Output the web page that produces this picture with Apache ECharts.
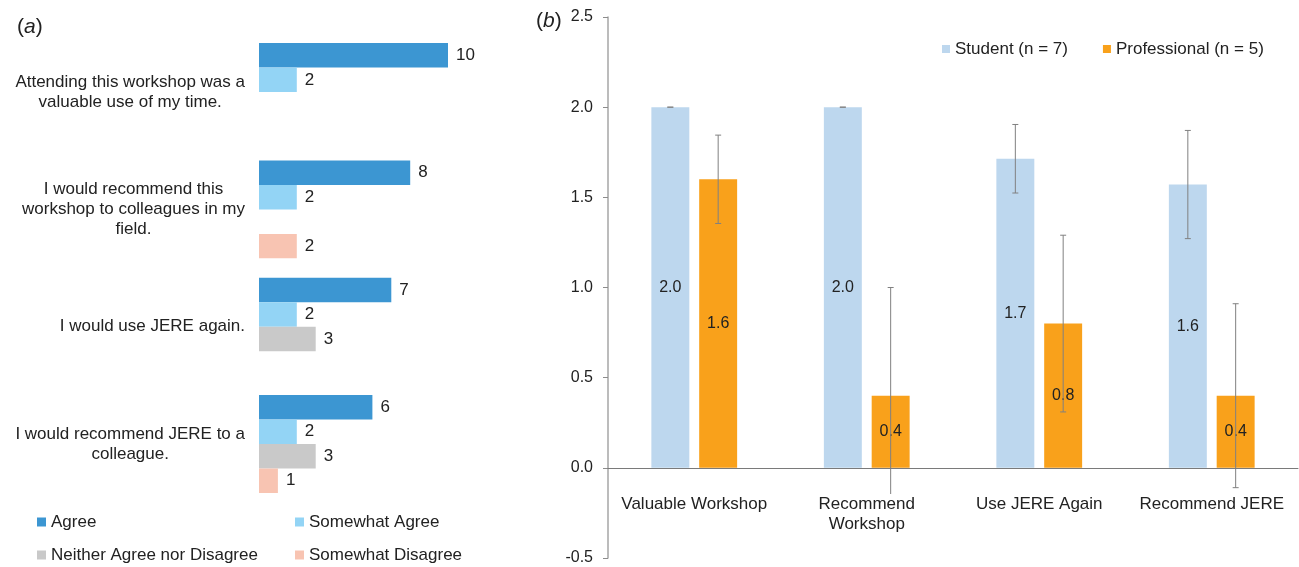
<!DOCTYPE html>
<html>
<head>
<meta charset="utf-8">
<script src="https://cdn.jsdelivr.net/npm/echarts@6/dist/echarts.min.js"></script>
<style>
  html, body { margin: 0; padding: 0; background: #fff; }
  #chart { width: 1299px; height: 567px; }
</style>
</head>
<body>
<div id="chart"></div>
<script>
// (a) survey statements, counts per response
const statements = [
  'Attending this workshop was a\nvaluable use of my time.',
  'I would recommend this\nworkshop to colleagues in my\nfield.',
  'I would use JERE again.',
  'I would recommend JERE to a\ncolleague.'
]
const agree = [10, 8, 7, 6]
const somewhatAgree = [2, 2, 2, 2]
const neither = [null, null, 3, 3]
const somewhatDisagree = [null, 2, null, 1]

// (b) mean scores with error bars
const measures = ['Valuable Workshop', 'Recommend\nWorkshop', 'Use JERE Again', 'Recommend JERE']
const student = [2.0, 2.0, 1.714, 1.571]
const studentErr = [0, 0, 0.19, 0.3]
const professional = [1.6, 0.4, 0.8, 0.4]
const professionalErr = [0.245, 0.6, 0.49, 0.51]
const yTicks = { min: -0.5, max: 2.5, interval: 0.5 }

const FONT = '"Liberation Sans", Arial, sans-serif'
const chart = echarts.init(document.getElementById('chart'))

function hbar (name, data, color) {
  return {
    name: name,
    type: 'bar',
    xAxisIndex: 0,
    yAxisIndex: 0,
    data: data,
    barGap: '0%',
    barCategoryGap: '16.5%',
    itemStyle: { color: color },
    label: {
      show: true,
      position: 'right',
      distance: 8,
      color: '#222',
      fontSize: 17,
      fontFamily: FONT
    }
  }
}

function vbar (name, data, color) {
  return {
    name: name,
    type: 'bar',
    xAxisIndex: 1,
    yAxisIndex: 1,
    data: data,
    barWidth: '22%',
    barGap: '26%',
    itemStyle: { color: color },
    label: {
      show: true,
      position: 'inside',
      color: '#222',
      fontSize: 16,
      fontFamily: FONT,
      formatter: p => p.value.toFixed(1)
    }
  }
}

// side: -1 student, +1 professional
function errorBars (values, errs, side) {
  return {
    type: 'custom',
    xAxisIndex: 1,
    yAxisIndex: 1,
    z: 3,
    silent: true,
    data: values.map((v, i) => [i, v - errs[i], v + errs[i]]),
    renderItem: function (params, api) {
      const band = api.size([1, 0])[0]
      const off = side * band * 0.22 * 1.26 / 2
      const lo = api.coord([api.value(0), api.value(1)])
      const hi = api.coord([api.value(0), api.value(2)])
      const x = lo[0] + off
      const cap = 3
      const style = { stroke: '#808080', lineWidth: 1 }
      return {
        type: 'group',
        children: [
          { type: 'line', shape: { x1: x, y1: lo[1], x2: x, y2: hi[1] }, style: style },
          { type: 'line', shape: { x1: x - cap, y1: lo[1], x2: x + cap, y2: lo[1] }, style: style },
          { type: 'line', shape: { x1: x - cap, y1: hi[1], x2: x + cap, y2: hi[1] }, style: style }
        ]
      }
    }
  }
}

const legendText = { color: '#222', fontSize: 17, fontFamily: FONT, lineHeight: 18 }

chart.setOption({
  animation: false,
  title: [
    {
      text: '({i|a})',
      left: 12, top: 12,
      textStyle: { fontSize: 21, fontWeight: 'normal', color: '#222', fontFamily: FONT, rich: { i: { fontStyle: 'italic', fontSize: 21, color: '#222', fontFamily: FONT } } }
    },
    {
      text: '({i|b})',
      left: 531, top: 6,
      textStyle: { fontSize: 21, fontWeight: 'normal', color: '#222', fontFamily: FONT, rich: { i: { fontStyle: 'italic', fontSize: 21, color: '#222', fontFamily: FONT } } }
    }
  ],
  legend: [
    {
      data: ['Agree', 'Neither Agree nor Disagree'],
      orient: 'vertical',
      left: 37, top: 513, padding: 0,
      itemWidth: 9, itemHeight: 9, itemGap: 15,
      icon: 'rect',
      textStyle: legendText
    },
    {
      data: ['Somewhat Agree', 'Somewhat Disagree'],
      orient: 'vertical',
      left: 295, top: 513, padding: 0,
      itemWidth: 9, itemHeight: 9, itemGap: 15,
      icon: 'rect',
      textStyle: legendText
    },
    {
      data: ['Student (n = 7)', 'Professional (n = 5)'],
      left: 942, top: 40, padding: 0,
      itemWidth: 8, itemHeight: 8, itemGap: 35,
      icon: 'rect',
      textStyle: legendText
    }
  ],
  grid: [
    { left: 259, top: 33.4, width: 189, height: 469.3, outerBoundsMode: 'none' },
    { left: 608, top: 17, right: 1, bottom: 9, outerBoundsMode: 'none' }
  ],
  xAxis: [
    { type: 'value', gridIndex: 0, min: 0, max: 10, show: false },
    {
      type: 'category',
      gridIndex: 1,
      data: measures,
      z: 4,
      axisLine: { onZero: true, lineStyle: { color: '#7a7a7a', width: 1 } },
      axisTick: { show: false },
      axisLabel: {
        interval: 0,
        margin: -64,
        color: '#222',
        fontSize: 17,
        lineHeight: 20,
        fontFamily: FONT,
        backgroundColor: '#fff'
      }
    }
  ],
  yAxis: [
    {
      type: 'category',
      gridIndex: 0,
      inverse: true,
      data: statements,
      axisLine: { show: false },
      axisTick: { show: false },
      axisLabel: {
        margin: 14,
        align: 'right',
        color: '#222',
        fontSize: 17,
        lineHeight: 20,
        fontFamily: FONT,
        formatter: function (v) {
          const lines = v.split('\n')
          if (lines.length === 1) return v
          return lines.map(l => '{c|' + l + '}').join('\n')
        },
        rich: { c: { align: 'center', fontSize: 17, lineHeight: 20, color: '#222', fontFamily: FONT } }
      }
    },
    {
      type: 'value',
      gridIndex: 1,
      min: yTicks.min,
      max: yTicks.max,
      interval: yTicks.interval,
      splitLine: { show: false },
      axisLine: { show: true, lineStyle: { color: '#a6a6a6', width: 1.5 } },
      axisTick: { show: true, length: 5, lineStyle: { color: '#8c8c8c' } },
      axisLabel: {
        margin: 15,
        color: '#222',
        fontSize: 16,
        fontFamily: FONT,
        formatter: v => v.toFixed(1)
      }
    }
  ],
  series: [
    hbar('Agree', agree, '#3c96d2'),
    hbar('Somewhat Agree', somewhatAgree, '#93d4f5'),
    hbar('Neither Agree nor Disagree', neither, '#c9c9c9'),
    hbar('Somewhat Disagree', somewhatDisagree, '#f8c4b2'),
    vbar('Student (n = 7)', student, '#bdd7ee'),
    vbar('Professional (n = 5)', professional, '#f9a11b'),
    errorBars(student, studentErr, -1),
    errorBars(professional, professionalErr, 1)
  ]
})
</script>
</body>
</html>
